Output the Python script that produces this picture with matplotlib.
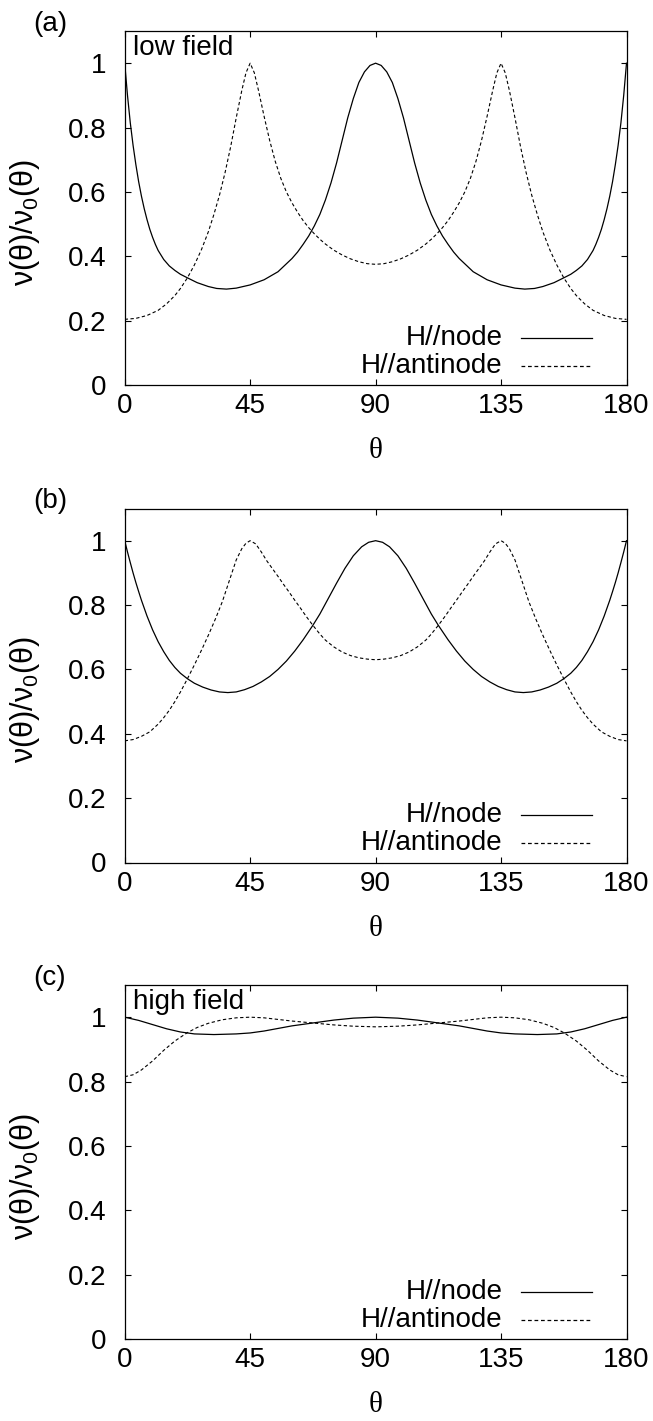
import matplotlib
matplotlib.use("Agg")
import matplotlib.pyplot as plt

plt.rcParams['font.family'] = ['Liberation Sans', 'DejaVu Sans']
plt.rcParams['mathtext.fontset'] = 'custom'
plt.rcParams['mathtext.rm'] = 'Liberation Sans'
plt.rcParams['mathtext.it'] = 'Liberation Sans:italic'

# ---- data: theta (deg) and nu/nu0 ----
# (a) low field
theta_a_node = [0, 1, 2, 3, 4, 5, 6, 7, 8, 9, 10, 11, 12, 14, 16, 18, 20, 22.5, 26, 30,
                33, 36.5, 40, 45, 50, 55, 60, 62, 64, 66, 68, 70, 72, 74, 76, 78, 80, 82,
                84, 86, 88, 90,
                92, 94, 96, 98, 100, 102, 104, 106, 108, 110, 112, 114, 116, 118, 120, 125,
                130, 135, 140, 143.5, 147, 150, 154, 157.5, 160, 162, 164, 166, 168, 169,
                170, 171, 172, 173, 174, 175, 176, 177, 178, 179, 180]
nu_a_node = [1.0, 0.90, 0.815, 0.745, 0.685, 0.632, 0.587, 0.548, 0.514, 0.484, 0.459,
             0.437, 0.418, 0.390, 0.370, 0.356, 0.344, 0.333, 0.318, 0.306, 0.300, 0.298,
             0.301, 0.311, 0.327, 0.352, 0.393, 0.413, 0.437, 0.463, 0.494, 0.53, 0.575,
             0.628, 0.69, 0.76, 0.83, 0.89, 0.94, 0.973, 0.993, 1.0,
             0.993, 0.973, 0.94, 0.89, 0.83, 0.76, 0.69, 0.628, 0.575, 0.53, 0.494, 0.463,
             0.437, 0.413, 0.393, 0.352, 0.327, 0.311, 0.301, 0.298, 0.300, 0.306, 0.318,
             0.333, 0.344, 0.356, 0.370, 0.390, 0.418, 0.437, 0.459, 0.484, 0.514, 0.548,
             0.587, 0.632, 0.685, 0.745, 0.815, 0.90, 1.0]
theta_a_anti = [0, 4, 8, 12, 15, 18, 20, 22.5, 25, 27.5, 30, 32, 34, 36, 38, 40, 42, 43.5,
                45, 46.5, 48, 50, 52, 54, 56, 58, 60, 62, 64, 66, 68, 70, 72, 75, 78, 81,
                84, 87, 90,
                93, 96, 99, 102, 105, 108, 110, 112, 114, 116, 118, 120, 122, 124, 126, 128,
                130, 132, 133.5, 135, 136.5, 138, 140, 142, 144, 146, 148, 150, 152.5, 155,
                157.5, 160, 162, 165, 168, 172, 176, 180]
nu_a_anti = [0.204, 0.207, 0.216, 0.232, 0.252, 0.278, 0.300, 0.333, 0.373, 0.42, 0.476,
             0.53, 0.59, 0.66, 0.74, 0.83, 0.915, 0.97, 1.0, 0.97, 0.915, 0.835, 0.76,
             0.695, 0.642, 0.60, 0.566, 0.537, 0.511, 0.489, 0.470, 0.453, 0.438, 0.419,
             0.404, 0.392, 0.383, 0.377, 0.375,
             0.377, 0.383, 0.392, 0.404, 0.419, 0.438, 0.453, 0.470, 0.489, 0.511, 0.537,
             0.566, 0.60, 0.642, 0.695, 0.76, 0.835, 0.915, 0.97, 1.0, 0.97, 0.915, 0.83,
             0.74, 0.66, 0.59, 0.53, 0.476, 0.42, 0.373, 0.333, 0.300, 0.278, 0.252,
             0.232, 0.216, 0.207, 0.204]

# (b) intermediate field
theta_b_node = [0, 1, 2, 3, 4, 5, 6, 8, 10, 12, 14, 16, 18, 20, 22.5, 25, 28, 31, 34, 37,
                40, 43, 46, 49, 52, 55, 58, 61, 64, 67.5, 70, 73, 76, 79, 82, 85, 87.5, 90,
                92.5, 95, 98, 101, 104, 107, 110, 112.5, 116, 119, 122, 125, 128, 131, 134,
                137, 140, 143, 146, 149, 152, 155, 157.5, 160, 162, 164, 166, 168, 170, 172,
                174, 175, 176, 177, 178, 179, 180]
nu_b_node = [1.0, 0.965, 0.932, 0.90, 0.87, 0.842, 0.815, 0.766, 0.723, 0.686, 0.655,
             0.628, 0.606, 0.588, 0.571, 0.557, 0.545, 0.536, 0.530, 0.528, 0.530, 0.537,
             0.547, 0.561, 0.578, 0.60, 0.626, 0.657, 0.692, 0.737, 0.772, 0.82, 0.868,
             0.914, 0.953, 0.981, 0.995, 1.0,
             0.995, 0.981, 0.953, 0.914, 0.868, 0.82, 0.772, 0.737, 0.692, 0.657, 0.626,
             0.60, 0.578, 0.561, 0.547, 0.537, 0.530, 0.528, 0.530, 0.536, 0.545, 0.557,
             0.571, 0.588, 0.606, 0.628, 0.655, 0.686, 0.723, 0.766, 0.815, 0.842, 0.87,
             0.90, 0.932, 0.965, 1.0]
theta_b_anti = [0, 3, 6, 9, 12, 14, 16, 18, 20, 22.5, 25, 27.5, 30, 32.5, 35, 37.5, 40, 42,
                43.5, 45, 47, 49, 51, 53, 55, 57, 59, 61, 63, 65, 67.5, 70, 72, 75, 78, 81,
                84, 87, 90,
                93, 96, 99, 102, 105, 108, 110, 112.5, 115, 117, 119, 121, 123, 125, 127,
                129, 131, 133, 135, 136.5, 138, 140, 142.5, 145, 147.5, 150, 152.5, 155,
                157.5, 160, 162, 164, 166, 168, 171, 174, 177, 180]
nu_b_anti = [0.378, 0.382, 0.392, 0.406, 0.43, 0.45, 0.473, 0.50, 0.53, 0.571, 0.614,
             0.659, 0.706, 0.756, 0.81, 0.875, 0.94, 0.975, 0.992, 1.0, 0.99, 0.965, 0.937,
             0.913, 0.889, 0.864, 0.840, 0.815, 0.791, 0.766, 0.737, 0.71, 0.691, 0.67,
             0.654, 0.643, 0.636, 0.632, 0.630,
             0.632, 0.636, 0.643, 0.654, 0.67, 0.691, 0.71, 0.737, 0.766, 0.791, 0.815,
             0.840, 0.864, 0.889, 0.913, 0.937, 0.965, 0.99, 1.0, 0.992, 0.975, 0.94,
             0.875, 0.81, 0.756, 0.706, 0.659, 0.614, 0.571, 0.53, 0.50, 0.473, 0.45, 0.43,
             0.406, 0.392, 0.382, 0.378]

# (c) high field
theta_c_node = [0, 5, 10, 15, 20, 25, 32, 40, 45, 50, 55, 60, 67.5, 75, 82, 90,
                98, 105, 112.5, 120, 125, 130, 135, 140, 148, 155, 160, 165, 170, 175, 180]
nu_c_node = [1.0, 0.99, 0.977, 0.964, 0.954, 0.948, 0.946, 0.948, 0.951, 0.957, 0.965,
             0.973, 0.982, 0.991, 0.997, 1.0,
             0.997, 0.991, 0.982, 0.973, 0.965, 0.957, 0.951, 0.948, 0.946, 0.948, 0.954,
             0.964, 0.977, 0.99, 1.0]
theta_c_anti = [0, 3, 6, 10, 14, 18, 22.3, 26, 30, 35, 40, 45, 50, 55, 60, 67.5, 75, 82, 90,
                98, 105, 112.5, 120, 125, 130, 135, 140, 145, 150, 154, 157.7, 162, 166,
                170, 174, 177, 180]
nu_c_anti = [0.815, 0.821, 0.836, 0.864, 0.897, 0.926, 0.951, 0.968, 0.981, 0.992, 0.998,
             1.0, 0.998, 0.993, 0.988, 0.982, 0.976, 0.972, 0.970,
             0.972, 0.976, 0.982, 0.988, 0.993, 0.998, 1.0, 0.998, 0.992, 0.981, 0.968,
             0.951, 0.926, 0.897, 0.864, 0.836, 0.821, 0.815]

x_ticks = [0, 45, 90, 135, 180]
y_ticks = [0, 0.2, 0.4, 0.6, 0.8, 1]
y_ticklabels = ["0", "0.2", "0.4", "0.6", "0.8", "1"]
legend_labels = ["H//node", "H//antinode"]

FS = 20
W, H = 653, 1421
fig = plt.figure(figsize=(W / 100, H / 100), dpi=100)

panels = [
    ("(a)", "low field", 385, theta_a_node, nu_a_node, theta_a_anti, nu_a_anti),
    ("(b)", None, 862.5, theta_b_node, nu_b_node, theta_b_anti, nu_b_anti),
    ("(c)", "high field", 1339, theta_c_node, nu_c_node, theta_c_anti, nu_c_anti),
]

ax_left, ax_right, ax_h = 124.7, 626.5, 354
DASH = (0, (3, 2.2))

for tag, note, ybot, tn, vn, ta, va in panels:
    ax = fig.add_axes([ax_left / W, (H - ybot) / H, (ax_right - ax_left) / W, ax_h / H])
    ax.plot(tn, vn, color="black", lw=0.9, ls="-")
    ax.plot(ta, va, color="black", lw=0.8, ls=DASH)
    ax.set_xlim(0, 180)
    ax.set_ylim(0, 1.1)
    ax.set_xticks(x_ticks)
    ax.set_yticks(y_ticks)
    ax.set_yticklabels(y_ticklabels)
    ax.tick_params(direction="in", length=4.5, width=0.8, top=True, right=True,
                   labelsize=FS)
    ax.tick_params(axis="y", pad=13)
    ax.tick_params(axis="x", pad=6)
    for s in ax.spines.values():
        s.set_linewidth(0.9)

    ax.set_xlabel("θ", fontsize=FS + 1, family=["Liberation Serif", "DejaVu Serif"])
    ax.xaxis.set_label_coords(0.5, -0.15)
    ax.set_ylabel("ν(θ)/ν$_0$(θ)", fontsize=FS + 2)
    ax.yaxis.set_label_coords(-0.165, 0.46)

    if note:
        ax.text(0.017, 0.99, note, transform=ax.transAxes, ha="left", va="top",
                fontsize=FS)

    # key, gnuplot style: right-aligned text, sample line on the right
    for ly, lab, style in [(0.134, legend_labels[0], "-"),
                           (0.0545, legend_labels[1], DASH)]:
        ax.text(0.753, ly, lab, transform=ax.transAxes, ha="right", va="center",
                fontsize=FS)
        ax.plot([0.79, 0.932], [ly, ly], transform=ax.transAxes, color="black",
                lw=0.9, ls=style, clip_on=False)

    top_px = ybot - ax_h
    fig.text(33 / W, 1 - (top_px - 7) / H, tag, ha="left", va="center", fontsize=FS)

fig.savefig("out.png", dpi=100)
